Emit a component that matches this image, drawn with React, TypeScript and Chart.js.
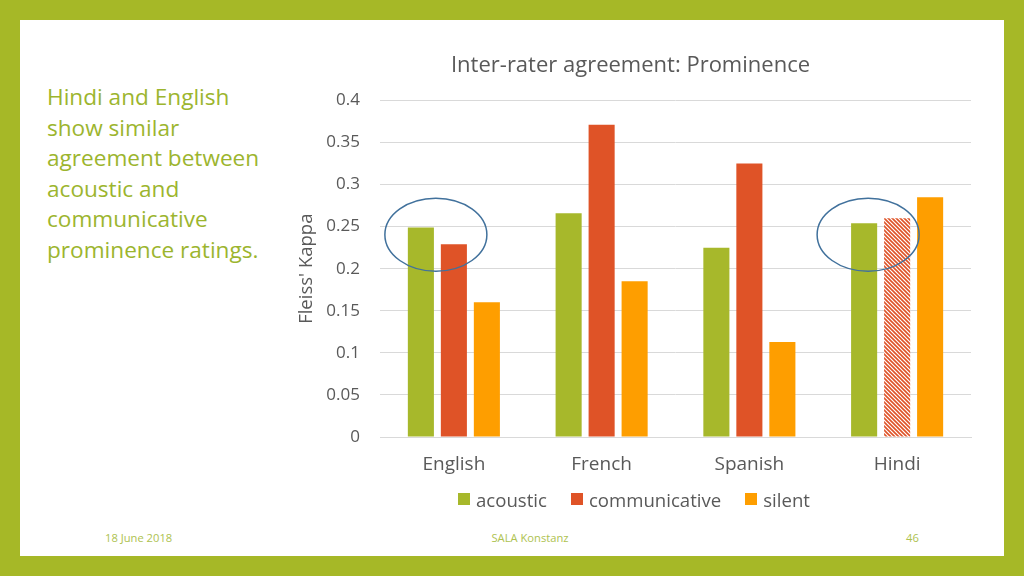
import { useEffect, useRef } from "react";
import { Chart, registerables } from "chart.js";

Chart.register(...registerables);

const languages = ["English", "French", "Spanish", "Hindi"];
const acoustic = [0.249, 0.266, 0.225, 0.254];
const communicative = [0.229, 0.371, 0.325, 0.26];
const silent = [0.16, 0.185, 0.113, 0.285];
const yTicks = [0, 0.05, 0.1, 0.15, 0.2, 0.25, 0.3, 0.35, 0.4];

const GREEN = "#A7B82B";
const RED = "#DF5327";
const ORANGE = "#FE9E00";
const TEXT = "#595959";
const FONT = "'Open Sans', sans-serif";

function makeHatch(color: string) {
  const c = document.createElement("canvas");
  c.width = 4;
  c.height = 4;
  const g = c.getContext("2d")!;
  g.fillStyle = "#fff";
  g.fillRect(0, 0, 4, 4);
  g.strokeStyle = color;
  g.lineWidth = 1.6;
  g.beginPath();
  g.moveTo(0, 0);
  g.lineTo(4, 4);
  g.moveTo(-1, 3);
  g.lineTo(1, 5);
  g.moveTo(3, -1);
  g.lineTo(5, 1);
  g.stroke();
  return g.createPattern(c, "repeat")!;
}

// blue circles round the acoustic/communicative pairs of English and Hindi
const ellipsePlugin = {
  id: "ellipses",
  afterDatasetsDraw(chart: Chart) {
    const { ctx } = chart;
    const x = chart.scales.x;
    const y = chart.scales.y;
    const marks = [
      { cat: 0, dx: -18 },
      { cat: 3, dx: -29 },
    ];
    ctx.save();
    ctx.strokeStyle = "#41719C";
    ctx.lineWidth = 1.5;
    for (const m of marks) {
      ctx.beginPath();
      ctx.ellipse(x.getPixelForValue(m.cat) + m.dx, y.getPixelForValue(0.2404), 51, 36.5, 0, 0, Math.PI * 2);
      ctx.stroke();
    }
    ctx.restore();
  },
};

function ProminenceChart() {
  const canvasRef = useRef<HTMLCanvasElement>(null);
  const chartRef = useRef<Chart | null>(null);

  useEffect(() => {
    if (!canvasRef.current) return;
    const ctx = canvasRef.current.getContext("2d");
    if (!ctx) return;

    const hatch = makeHatch(RED);
    const commColors = languages.map((l) => (l === "Hindi" ? hatch : RED));

    chartRef.current?.destroy();
    chartRef.current = new Chart(ctx, {
      type: "bar",
      data: {
        labels: languages,
        datasets: [
          { label: "acoustic", data: acoustic, backgroundColor: GREEN },
          { label: "communicative", data: communicative, backgroundColor: commColors as any },
          { label: "silent", data: silent, backgroundColor: ORANGE },
        ],
      },
      options: {
        responsive: true,
        maintainAspectRatio: false,
        animation: false,
        datasets: { bar: { barPercentage: 0.79, categoryPercentage: 0.67 } },
        layout: { padding: { left: 0, right: 19, top: 0, bottom: 0 } },
        plugins: {
          tooltip: { enabled: false },
          legend: { display: false },
          title: {
            display: true,
            text: "Inter-rater agreement: Prominence",
            color: TEXT,
            font: { family: FONT, size: 22, weight: "normal" },
            padding: { top: 13, bottom: 21 },
          },
        },
        scales: {
          y: {
            min: 0,
            max: 0.4,
            afterBuildTicks: (s) => {
              s.ticks = yTicks.map((v) => ({ value: v }));
            },
            afterFit: (s) => {
              s.width = 90;
            },
            border: { display: false },
            grid: { color: "#D9D9D9", drawTicks: false },
            ticks: {
              color: TEXT,
              font: { family: FONT, size: 17 },
              padding: 20,
              callback: (v) => String(Number(v)),
            },
            title: {
              display: true,
              text: "Fleiss' Kappa",
              color: TEXT,
              font: { family: FONT, size: 18.5 },
              padding: { top: 6, bottom: 0 },
            },
          },
          x: {
            afterFit: (s) => {
              s.height = 53;
            },
            border: { color: "#D9D9D9" },
            grid: { display: false, drawTicks: false },
            ticks: { color: TEXT, font: { family: FONT, size: 19 }, padding: 16 },
          },
        },
      },
      plugins: [ellipsePlugin],
    });

    return () => chartRef.current?.destroy();
  }, []);

  const series = [
    { name: "acoustic", color: GREEN },
    { name: "communicative", color: RED },
    { name: "silent", color: ORANGE },
  ];

  return (
    <>
      <div style={{ position: "absolute", left: 290, top: 40, width: 700, height: 450 }}>
        <canvas ref={canvasRef} />
      </div>
      <div
        style={{
          position: "absolute",
          left: 458,
          top: 487,
          height: 24,
          display: "flex",
          alignItems: "center",
          gap: 24,
          fontSize: 18.6,
          color: TEXT,
          whiteSpace: "nowrap",
        }}
      >
        {series.map((s) => (
          <span key={s.name} style={{ display: "flex", alignItems: "center" }}>
            <span style={{ width: 12, height: 12, background: s.color, marginRight: 6 }} />
            {s.name}
          </span>
        ))}
      </div>
    </>
  );
}

export default function App() {
  const footer = { position: "absolute" as const, top: 530, fontSize: 11.2, color: "#AEC250", lineHeight: "16px" };
  return (
    <div
      style={{
        position: "absolute",
        left: 0,
        top: 0,
        width: 1024,
        height: 576,
        background: "#A6B827",
        fontFamily: FONT,
        overflow: "hidden",
      }}
    >
      <div style={{ position: "absolute", left: 20, top: 20, width: 984, height: 536, background: "#fff" }} />
      <div
        style={{
          position: "absolute",
          left: 47,
          top: 82,
          width: 226,
          fontSize: 22.6,
          lineHeight: "30.6px",
          color: "#9CB52E",
        }}
      >
        Hindi and English show similar agreement between acoustic and communicative prominence ratings.
      </div>
      <ProminenceChart />
      <div style={{ ...footer, left: 105 }}>18 June 2018</div>
      <div style={{ ...footer, left: 430, width: 200, textAlign: "center" }}>SALA Konstanz</div>
      <div style={{ ...footer, left: 906 }}>46</div>
    </div>
  );
}
